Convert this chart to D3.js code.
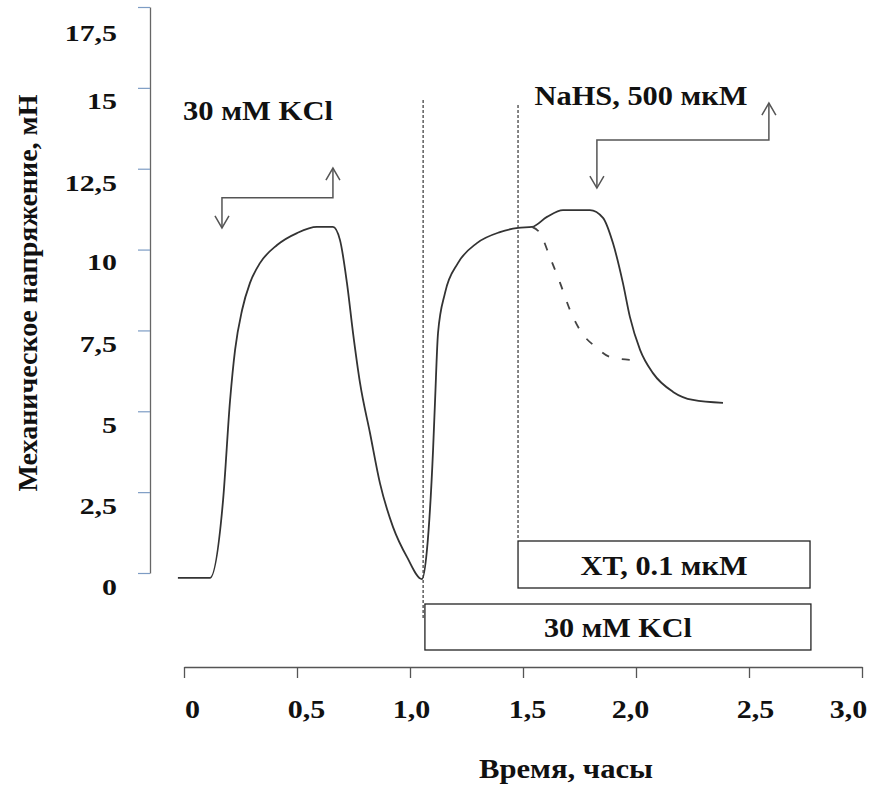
<!DOCTYPE html>
<html><head><meta charset="utf-8">
<script src="https://cdn.jsdelivr.net/npm/d3@7"></script>
<style>html,body{margin:0;padding:0;background:#fff;}svg{display:block;}</style>
</head><body>
<svg id="chart" width="878" height="787"></svg>
<script>
// ---- data ----
const solidTime    = [-0.027,0.115,0.173,0.204,0.226,0.257,0.292,0.336,0.412,0.500,0.588,0.659,0.690,0.721,0.748,0.779,0.823,0.867,0.925,0.987,1.053,1.075,1.102,1.111,1.124,1.155,1.212,1.296,1.398,1.478,1.540,1.606,1.677,1.796,1.854,1.898,1.942,1.973,2.018,2.075,2.164,2.252,2.385];
const solidTension = [-0.15,-0.15,2.26,5.35,6.90,8.13,8.97,9.58,10.14,10.51,10.70,10.70,10.30,8.97,7.42,5.87,4.33,2.78,1.42,0.49,-0.19,0.71,3.80,5.35,7.42,8.66,9.58,10.20,10.54,10.67,10.70,11.01,11.22,11.22,10.98,10.20,8.97,7.92,6.90,6.18,5.60,5.35,5.26];
const dashedTime    = [1.540,1.575,1.619,1.664,1.708,1.752,1.827,1.885,1.973];
const dashedTension = [10.70,10.51,9.77,8.97,8.13,7.51,6.96,6.68,6.59];
const xTicks = [0,0.5,1.0,1.5,2.0,2.5,3.0];
const xTickLabels = ["0","0,5","1,0","1,5","2,0","2,5","3,0"];
const yTicks = [0,2.5,5,7.5,10,12.5,15,17.5];
const yTickLabels = ["0","2,5","5","7,5","10","12,5","15","17,5"];
const markerTimes = [1.058,1.478];
const boxLabels = ["XT, 0.1 мкМ","30 мМ KCl"];
const boxStart  = [1.478,1.066];
const boxEnd    = [2.770,2.774];
const arrowLabels = ["30 мМ KCl","NaHS, 500 мкМ"];
const arrowLeft   = [0.168,1.827];
const arrowRight  = [0.659,2.588];
const arrowLevel  = [11.6,13.39];
const arrowDownTo = [10.67,11.9];
const arrowUpTo   = [12.52,14.53];

// ---- layout ----
const xLabelShift = [8,9,1,4,-6,6,-14];
const yLabelShift = [14,14,14,14,13,14,13,26];
const svg = d3.select("#chart");
const x = d3.scaleLinear().domain([0,3]).range([184,862]);
const y = d3.scaleLinear().domain([0,17.5]).range([573,7]);
const FONT = "'Liberation Serif','Times New Roman',serif";

// y axis
const gy = svg.append("g").attr("transform","translate(150,0)")
  .call(d3.axisLeft(y).tickValues(yTicks).tickSize(12).tickSizeOuter(0).tickFormat((d,i)=>yTickLabels[i]));
gy.select(".domain").attr("stroke","#666").attr("stroke-width",1.3);
gy.selectAll(".tick line").attr("stroke","#7d9cc4").attr("stroke-width",1.2);
gy.selectAll(".tick text").attr("font-family",FONT).attr("font-weight","bold").attr("font-size",23)
  .attr("fill","#111").attr("x",-33/1.3).attr("y",(d,i)=>yLabelShift[i]).attr("transform","scale(1.3,1)");

// x axis
const gx = svg.append("g").attr("transform","translate(0,667)")
  .call(d3.axisBottom(x).tickValues(xTicks).tickSize(11).tickSizeOuter(0).tickFormat((d,i)=>xTickLabels[i]));
gx.select(".domain").attr("stroke","#555").attr("stroke-width",1.3);
gx.selectAll(".tick line").attr("stroke","#555").attr("stroke-width",1.3);
gx.selectAll(".tick text").attr("font-family",FONT).attr("font-weight","bold").attr("font-size",25)
  .attr("fill","#111").attr("x",(d,i)=>xLabelShift[i]/1.2).attr("y",51).attr("dy",0).attr("transform","scale(1.2,1)");

// axis titles
svg.append("text").attr("x",566).attr("y",778).attr("text-anchor","middle")
  .attr("font-family",FONT).attr("font-weight","bold").attr("font-size",27).attr("fill","#111")
  .attr("textLength",174).attr("lengthAdjust","spacingAndGlyphs").text("Время, часы");
svg.append("text").attr("transform","translate(37,293) rotate(-90)").attr("text-anchor","middle")
  .attr("font-family",FONT).attr("font-weight","bold").attr("font-size",28).attr("fill","#111")
  .attr("textLength",397).attr("lengthAdjust","spacingAndGlyphs").text("Механическое напряжение, мН");

// vertical dashed markers
const markerTop = [100,105], markerBottom = [620,540];
markerTimes.forEach((t,i)=>{
  svg.append("line").attr("x1",x(t)).attr("x2",x(t)).attr("y1",markerTop[i]).attr("y2",markerBottom[i])
    .attr("stroke","#222").attr("stroke-width",1.1).attr("stroke-dasharray","3,2");
});

// boxes
const boxTop=[541,604], boxBottom=[588,650], boxBase=[575,637], boxLen=[167,148];
boxLabels.forEach((lab,i)=>{
  svg.append("rect").attr("x",x(boxStart[i])).attr("y",boxTop[i])
    .attr("width",x(boxEnd[i])-x(boxStart[i])).attr("height",boxBottom[i]-boxTop[i])
    .attr("fill","#fff").attr("stroke","#222").attr("stroke-width",1.3);
  svg.append("text").attr("x",(x(boxStart[i])+x(boxEnd[i]))/2).attr("y",boxBase[i]).attr("text-anchor","middle")
    .attr("font-family",FONT).attr("font-weight","bold").attr("font-size",27).attr("fill","#111")
    .attr("textLength",boxLen[i]).attr("lengthAdjust","spacingAndGlyphs").text(lab);
});

// curves
const line = d3.line().x(d=>x(d[0])).y(d=>y(d[1])).curve(d3.curveMonotoneX);
svg.append("path").datum(solidTime.map((t,i)=>[t,solidTension[i]])).attr("d",line)
  .attr("fill","none").attr("stroke","#333").attr("stroke-width",1.8);
svg.append("path").datum(dashedTime.map((t,i)=>[t,dashedTension[i]])).attr("d",line)
  .attr("fill","none").attr("stroke","#444").attr("stroke-width",1.8).attr("stroke-dasharray","8,13");

// arrows
const labelCx=[258,641], labelBase=[120,105], labelLen=[150,213];
arrowLabels.forEach((lab,i)=>{
  const xl=x(arrowLeft[i]), xr=x(arrowRight[i]), yh=y(arrowLevel[i]), yd=y(arrowDownTo[i]), yu=y(arrowUpTo[i]);
  svg.append("path").attr("d",`M${xl},${yd}L${xl},${yh}L${xr},${yh}L${xr},${yu}`)
    .attr("fill","none").attr("stroke","#555").attr("stroke-width",1.5);
  svg.append("path").attr("d",`M${xl-7},${yd-12}L${xl},${yd}L${xl+7},${yd-12}`)
    .attr("fill","none").attr("stroke","#555").attr("stroke-width",1.5);
  svg.append("path").attr("d",`M${xr-7},${yu+12}L${xr},${yu}L${xr+7},${yu+12}`)
    .attr("fill","none").attr("stroke","#555").attr("stroke-width",1.5);
  svg.append("text").attr("x",labelCx[i]).attr("y",labelBase[i]).attr("text-anchor","middle")
    .attr("font-family",FONT).attr("font-weight","bold").attr("font-size",27).attr("fill","#111")
    .attr("textLength",labelLen[i]).attr("lengthAdjust","spacingAndGlyphs").text(lab);
});
</script>
</body></html>
